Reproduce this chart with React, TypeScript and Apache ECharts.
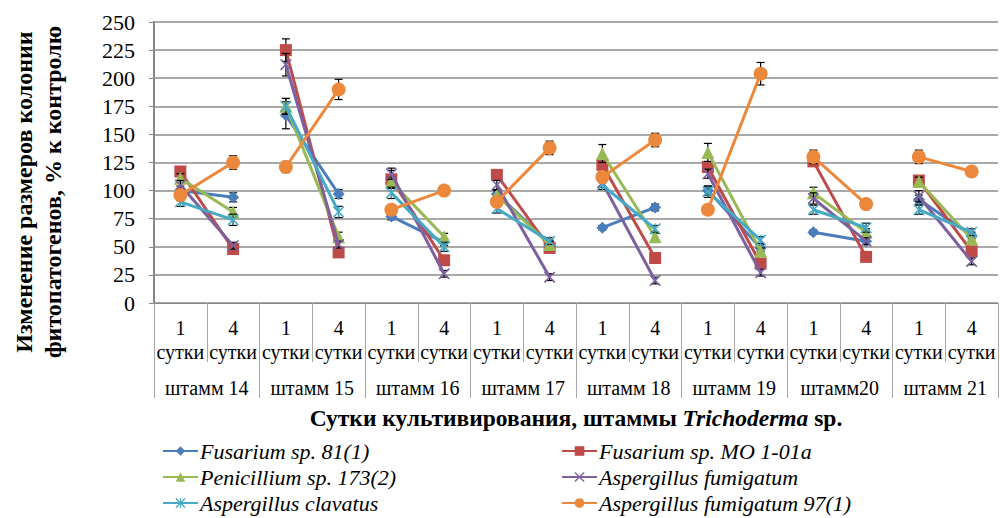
import React, { useEffect, useRef } from "react";
import * as echarts from "echarts";

const strains = ["штамм 14", "штамм 15", "штамм 16", "штамм 17", "штамм 18", "штамм 19", "штамм20", "штамм 21"];
const days = ["1\nсутки", "4\nсутки"];
const yTicks = { min: 0, max: 250, interval: 25 };

const species = [
  "Fusarium sp. 81(1)",
  "Fusarium sp. MO 1-01a",
  "Penicillium sp. 173(2)",
  "Aspergillus fumigatum",
  "Aspergillus clavatus",
  "Aspergillus fumigatum 97(1)",
];

// values per strain: [day1, day4] pairs in order of strains
const fusarium81 = [100, 94, 167, 97, 77, 54, 97, 53, 67, 85, 100, 49, 63, 55, 92, 60];
const fusariumMO = [117, 48, 225, 45, 110, 38, 114, 49, 123, 40, 121, 35, 126, 41, 109, 46];
const penicillium = [111, 81, 175, 59, 108, 59, 96, 52, 133, 59, 134, 46, 98, 63, 108, 57];
const aFumigatum = [105, 51, 212, 52, 115, 26, 105, 23, 107, 20, 115, 27, 93, 55, 95, 37];
const aClavatus = [90, 74, 175, 81, 98, 50, 84, 55, 105, 66, 99, 56, 83, 67, 83, 63];
const aFumigatum97 = [96, 125, 121, 190, 83, 100, 90, 138, 112, 145, 83, 204, 130, 88, 130, 117];

const errF81 = [4, 4, 12, 4, 3, 3, 3, 3, 2, 3, 4, 3, 2, 3, 4, 3];
const errFMO = [4, 3, 10, 3, 8, 3, 3, 3, 4, 3, 4, 3, 4, 2, 4, 3];
const errPen = [4, 4, 7, 4, 4, 3, 4, 3, 8, 3, 8, 3, 5, 3, 4, 3];
const errAF = [4, 3, 10, 3, 5, 3, 4, 3, 4, 3, 4, 3, 5, 3, 5, 3];
const errAC = [4, 5, 7, 5, 5, 4, 4, 3, 4, 3, 5, 3, 4, 4, 4, 3];
const errAF97 = [5, 6, 5, 9, 3, 3, 4, 6, 5, 6, 3, 10, 6, 3, 6, 4];

const values = [fusarium81, fusariumMO, penicillium, aFumigatum, aClavatus, aFumigatum97];
const errors = [errF81, errFMO, errPen, errAF, errAC, errAF97];

const colors = ["#4A7EBB", "#BE4B48", "#98B954", "#7D60A0", "#46AAC5", "#EC883B"];
const X_PATH =
  "path://M0,0 L2,0 L10,8 L18,0 L20,0 L20,2 L12,10 L20,18 L20,20 L18,20 L10,12 L2,20 L0,20 L0,18 L8,10 L0,2 Z";
const STAR_PATH = X_PATH + " M9,0 L11,0 L11,20 L9,20 Z";
const symbols = ["diamond", "rect", "triangle", X_PATH, STAR_PATH, "circle"];
const symbolSizes = [12, 12, 13, 11, 11, 14];

const categories = strains.flatMap((s) => days.map((d) => s + "|" + d));

const FONT = "Liberation Serif";

export default function App() {
  const ref = useRef<HTMLDivElement>(null);
  useEffect(() => {
    if (!ref.current) return;
    const chart = echarts.init(ref.current, undefined, { renderer: "svg" });

    const series: any[] = [];
    species.forEach((name, si) => {
      strains.forEach((_, k) => {
        series.push({
          type: "line",
          name,
          xAxisIndex: 0,
          data: [
            [2 * k, values[si][2 * k]],
            [2 * k + 1, values[si][2 * k + 1]],
          ],
          symbol: symbols[si],
          symbolSize: symbolSizes[si],
          showSymbol: true,
          lineStyle: { color: colors[si], width: 3 },
          itemStyle: { color: colors[si] },
          emphasis: { disabled: true },
          z: 3 + si * 0.01,
        });
      });
    });
    species.forEach((name, si) => {
      series.push({
        type: "custom",
        name: "err-" + name,
        xAxisIndex: 0,
        z: 3 + si * 0.01 - 0.005,
        data: values[si].map((v, i) => [i, v, errors[si][i]]),
        renderItem: (params: any, api: any) => {
          const x = api.value(0);
          const v = api.value(1);
          const e = api.value(2);
          const top = api.coord([x, v + e]);
          const bot = api.coord([x, v - e]);
          const hw = 4;
          const st = { stroke: "#000", lineWidth: 1.2 };
          return {
            type: "group",
            children: [
              { type: "line", shape: { x1: top[0], y1: top[1], x2: bot[0], y2: bot[1] }, style: st },
              { type: "line", shape: { x1: top[0] - hw, y1: top[1], x2: top[0] + hw, y2: top[1] }, style: st },
              { type: "line", shape: { x1: bot[0] - hw, y1: bot[1], x2: bot[0] + hw, y2: bot[1] }, style: st },
            ],
          };
        },
      });
    });

    const legendText = {
      fontFamily: FONT,
      fontStyle: "italic",
      fontSize: 22,
      color: "#000",
      lineHeight: 22,
      padding: [0, 0, 0, -3],
    };
    const legendCommon = {
      orient: "vertical",
      top: 440,
      height: 76,
      padding: 0,
      itemWidth: 35,
      itemHeight: 12,
      itemGap: 4,
      textStyle: legendText,
      selectedMode: false,
    };

    chart.setOption({
      animation: false,
      backgroundColor: "#fff",
      grid: { left: 154, right: 2, top: 22, bottom: 215, containLabel: false },
      legend: [
        { ...legendCommon, data: [species[0], species[2], species[4]], left: 162 },
        { ...legendCommon, data: [species[1], species[3], species[5]], left: 561 },
      ],
      xAxis: [
        {
          type: "category",
          data: categories,
          position: "bottom",
          boundaryGap: true,
          axisLine: { show: true, lineStyle: { color: "#868686", width: 1 } },
          axisTick: { show: true, interval: 0, length: 59, lineStyle: { color: "#A6A6A6", width: 1 } },
          axisLabel: {
            interval: 0,
            margin: 13,
            fontFamily: FONT,
            fontSize: 20,
            color: "#000",
            lineHeight: 24,
            formatter: (v: string) => v.split("|")[1],
          },
          splitLine: { show: false },
        },
        {
          type: "category",
          data: strains,
          position: "bottom",
          boundaryGap: true,
          axisLine: { show: false },
          axisTick: { show: true, interval: 0, length: 95, lineStyle: { color: "#A6A6A6", width: 1 } },
          axisLabel: {
            interval: 0,
            margin: 75,
            fontFamily: FONT,
            fontSize: 20,
            color: "#000",
          },
          name: "{b|Сутки культивирования, штаммы }{bi|Trichoderma}{b| sp.}",
          nameLocation: "middle",
          nameGap: 103,
          nameTextStyle: {
            rich: {
              b: { fontFamily: FONT, fontWeight: "bold", fontSize: 23.5, color: "#000" },
              bi: { fontFamily: FONT, fontWeight: "bold", fontStyle: "italic", fontSize: 23.5, color: "#000" },
            },
          },
        },
      ],
      yAxis: {
        type: "value",
        min: yTicks.min,
        max: yTicks.max,
        interval: yTicks.interval,
        axisLine: { show: true, lineStyle: { color: "#868686", width: 2 } },
        axisTick: { show: true, length: 5, inside: false, lineStyle: { color: "#868686" } },
        axisLabel: { fontFamily: FONT, fontSize: 22, color: "#000", margin: 19 },
        splitLine: { show: true, lineStyle: { color: "#8C8C8C", width: 1.5 } },
      },
      graphic: [
        {
          type: "text",
          x: 38,
          y: 192,
          rotation: Math.PI / 2,
          style: {
            text: "Изменение размеров колонии\nфитопатогенов, % к контролю",
            fontFamily: FONT,
            fontWeight: "bold",
            fontSize: 24,
            fill: "#000",
            align: "center",
            verticalAlign: "middle",
            lineHeight: 29,
          },
        },
      ],
      series,
    });
    return () => chart.dispose();
  }, []);
  return (
    <div
      ref={ref}
      style={{ position: "fixed", left: 0, top: 0, width: 1000, height: 518, background: "#fff" }}
    />
  );
}
